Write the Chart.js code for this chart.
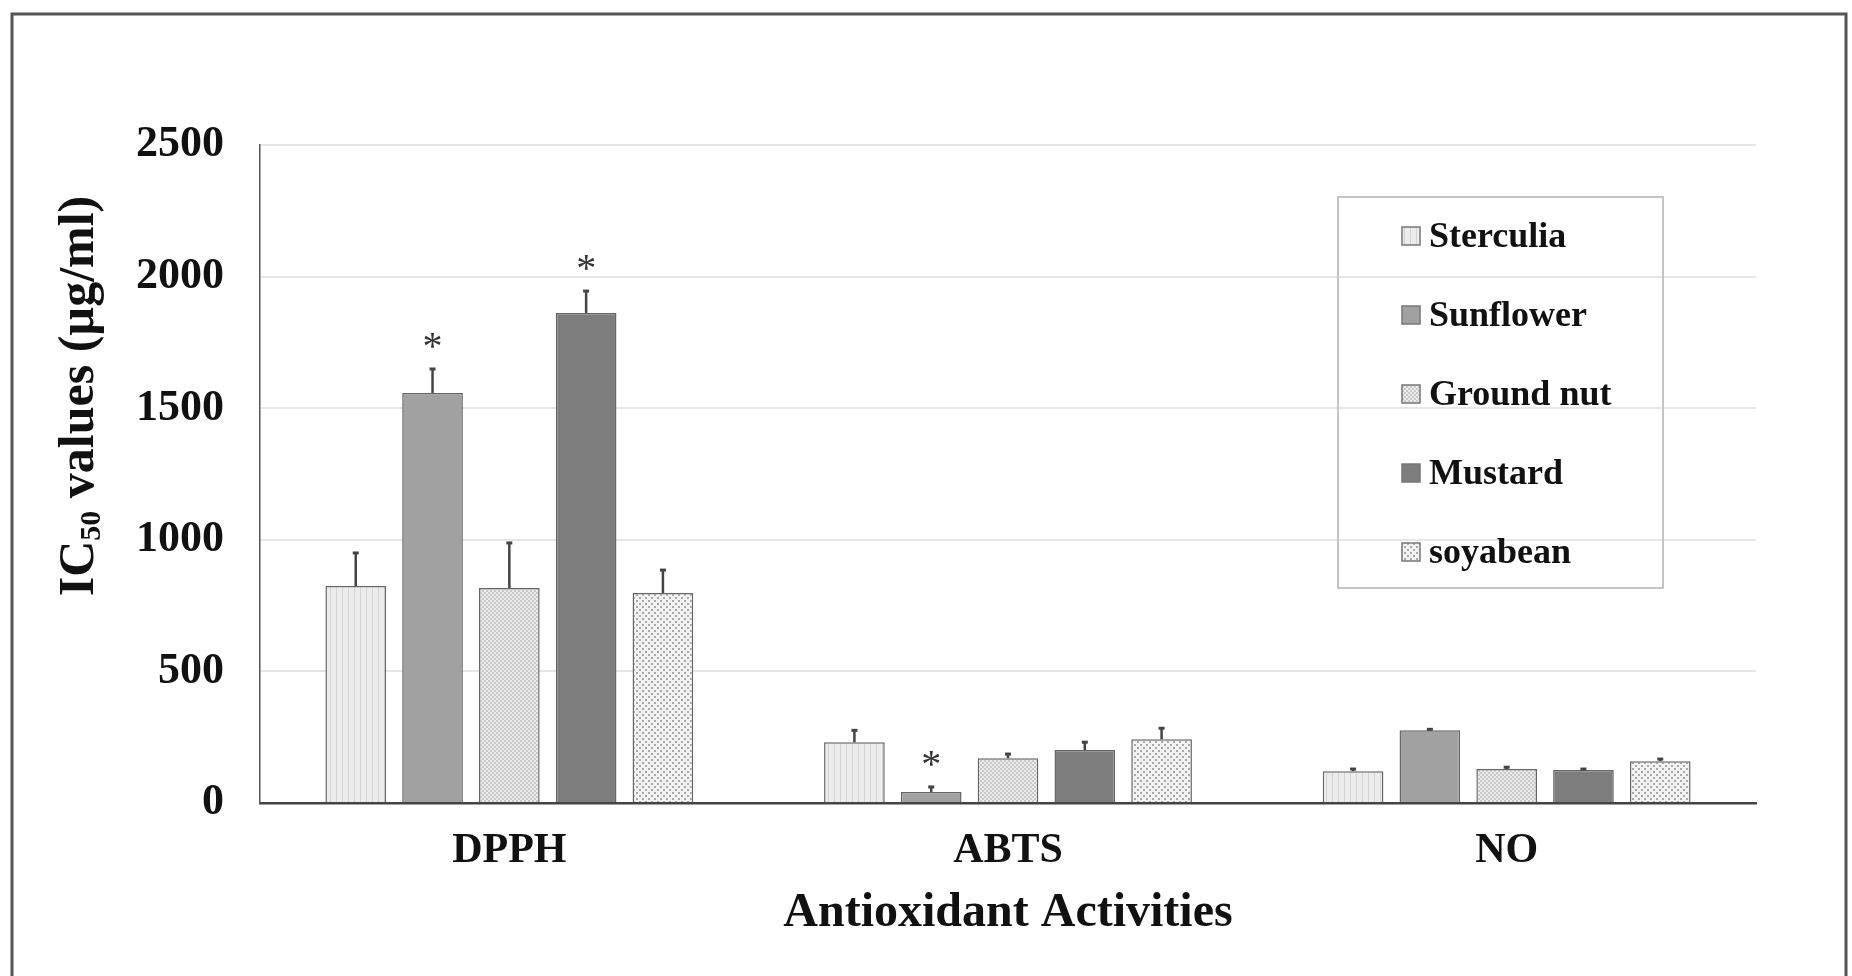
<!DOCTYPE html>
<html lang="en">

<head>
    <meta charset="UTF-8">
    <title>IC50 values - Antioxidant Activities</title>
    <script src="https://cdn.jsdelivr.net/npm/chart.js"></script>
    <style>
        html, body {
            margin: 0;
            padding: 0;
            background: #ffffff;
        }

        #wrap {
            position: relative;
            width: 1852px;
            height: 976px;
        }
    </style>
</head>

<body>

    <div id="wrap">
        <canvas id="myChart"></canvas>
    </div>

    <script>
        // categories and tick labels
        const categories = ['DPPH', 'ABTS', 'NO'];
        const seriesNames = ['Sterculia', 'Sunflower', 'Ground nut', 'Mustard', 'soyabean'];
        const yTicks = [0, 500, 1000, 1500, 2000, 2500];

        // IC50 values (ug/ml)
        const sterculia = [824, 231, 121];
        const sunflower = [1558, 42, 276];
        const groundNut = [817, 170, 129];
        const mustard = [1862, 201, 125];
        const soyabean = [798, 242, 159];

        // error bars (upper only)
        const sterculiaErr = [126, 45, 8];
        const sunflowerErr = [91, 19, 4];
        const groundNutErr = [171, 16, 7];
        const mustardErr = [83, 30, 4];
        const soyabeanErr = [87, 42, 8];

        // significance markers
        const sunflowerStar = [true, true, false];
        const mustardStar = [true, false, false];
        const noStar = [false, false, false];

        var ctx = document.getElementById('myChart').getContext('2d');
        var serif = "'Liberation Serif', 'Times New Roman', serif";

        function makePattern(size, base, fg, dots) {
            var c = document.createElement('canvas');
            c.width = size;
            c.height = size;
            var g = c.getContext('2d');
            g.fillStyle = base;
            g.fillRect(0, 0, size, size);
            g.fillStyle = fg;
            dots.forEach(function (d) {
                g.fillRect(d[0], d[1], d[2], d[3]);
            });
            return ctx.createPattern(c, 'repeat');
        }

        var fills = [
            makePattern(6, '#ececec', '#d4d4d4', [[0, 0, 1, 6]]),
            '#a1a1a1',
            makePattern(4, '#ebebeb', '#c9c9c9', [[0, 0, 2, 2], [2, 2, 2, 2]]),
            '#7d7d7d',
            makePattern(6, '#f2f2f2', '#a9a9a9', [[0, 0, 2, 2], [3, 3, 2, 2]])
        ];

        var values = [sterculia, sunflower, groundNut, mustard, soyabean];
        var errors = [sterculiaErr, sunflowerErr, groundNutErr, mustardErr, soyabeanErr];
        var stars = [noStar, sunflowerStar, noStar, mustardStar, noStar];

        var datasets = seriesNames.map(function (name, i) {
            return {
                label: name,
                data: values[i],
                errors: errors[i],
                stars: stars[i],
                backgroundColor: fills[i],
                borderColor: '#666666',
                borderWidth: 1.5,
                borderSkipped: 'bottom',
                barPercentage: 0.79,
                categoryPercentage: 0.77
            };
        });

        // outer frame of the figure
        const framePlugin = {
            id: 'frame',
            beforeDraw(chart) {
                const c = chart.ctx;
                c.save();
                c.fillStyle = '#ffffff';
                c.fillRect(0, 0, chart.width, chart.height);
                c.strokeStyle = '#555555';
                c.lineWidth = 3;
                c.strokeRect(12, 14, 1834, 980);
                c.restore();
            }
        };

        // error bars and asterisks
        const errorPlugin = {
            id: 'errorBars',
            afterDatasetsDraw(chart) {
                const c = chart.ctx;
                const yScale = chart.scales.y;
                c.save();
                chart.data.datasets.forEach(function (ds, i) {
                    const meta = chart.getDatasetMeta(i);
                    meta.data.forEach(function (bar, j) {
                        const top = yScale.getPixelForValue(ds.data[j] + ds.errors[j]);
                        c.strokeStyle = '#444444';
                        c.lineWidth = 2.5;
                        c.beginPath();
                        c.moveTo(bar.x, bar.y);
                        c.lineTo(bar.x, top);
                        c.stroke();
                        c.lineWidth = 3;
                        c.beginPath();
                        c.moveTo(bar.x - 3, top);
                        c.lineTo(bar.x + 3, top);
                        c.stroke();
                        if (ds.stars[j]) {
                            c.fillStyle = '#333333';
                            c.font = '40px ' + serif;
                            c.textAlign = 'center';
                            c.textBaseline = 'alphabetic';
                            c.fillText('*', bar.x, top - 28 + 18);
                        }
                    });
                });
                c.restore();
            }
        };

        // y axis title with subscript
        const yTitlePlugin = {
            id: 'yTitle',
            afterDraw(chart) {
                const c = chart.ctx;
                const big = 'bold 50px ' + serif;
                const small = 'bold 30px ' + serif;
                const p1 = 'IC', p2 = '50', p3 = ' values (\u00b5g/ml)';
                c.save();
                c.font = big;
                const w1 = c.measureText(p1).width;
                const w3 = c.measureText(p3).width;
                c.font = small;
                const w2 = c.measureText(p2).width;
                const total = w1 + w2 + w3;
                c.translate(80, 396);
                c.rotate(-Math.PI / 2);
                c.fillStyle = '#111111';
                c.textAlign = 'left';
                c.textBaseline = 'middle';
                let x = -total / 2;
                c.font = big;
                c.fillText(p1, x, 0);
                x += w1;
                c.font = small;
                c.fillText(p2, x, 12);
                x += w2;
                c.font = big;
                c.fillText(p3, x, 0);
                c.restore();
            }
        };

        // legend box inside the plot
        const legendPlugin = {
            id: 'boxLegend',
            afterDraw(chart) {
                const c = chart.ctx;
                c.save();
                c.strokeStyle = '#c4c4c4';
                c.lineWidth = 2;
                c.strokeRect(1338, 197, 325, 391);
                c.font = 'bold 36px ' + serif;
                c.textAlign = 'left';
                c.textBaseline = 'middle';
                chart.data.datasets.forEach(function (ds, i) {
                    const y = 236 + i * 79;
                    c.fillStyle = ds.backgroundColor;
                    c.fillRect(1402, y - 9, 18, 18);
                    c.strokeStyle = '#777777';
                    c.lineWidth = 1.5;
                    c.strokeRect(1402, y - 9, 18, 18);
                    c.fillStyle = '#111111';
                    c.fillText(ds.label, 1429, y + 2);
                });
                c.restore();
            }
        };

        var myChart = new Chart(ctx, {
            type: 'bar',
            data: {
                labels: categories,
                datasets: datasets
            },
            options: {
                responsive: true,
                maintainAspectRatio: false,
                animation: false,
                layout: {
                    padding: { top: 145, right: 96, left: 0, bottom: 0 }
                },
                plugins: {
                    legend: { display: false },
                    tooltip: { enabled: false }
                },
                scales: {
                    x: {
                        grid: { display: false, drawTicks: false },
                        border: { color: '#444444', width: 2.5 },
                        ticks: {
                            padding: 23,
                            color: '#111111',
                            font: { family: serif, size: 42, weight: 'bold' }
                        },
                        title: {
                            display: true,
                            text: 'Antioxidant Activities',
                            color: '#111111',
                            padding: { top: 0, bottom: 34 },
                            font: { family: serif, size: 48, weight: 'bold' }
                        },
                        afterFit: function (scale) {
                            scale.height = 173;
                        }
                    },
                    y: {
                        min: 0,
                        max: 2500,
                        afterBuildTicks: function (scale) {
                            scale.ticks = yTicks.map(function (v) { return { value: v }; });
                        },
                        grid: {
                            drawTicks: false,
                            lineWidth: 2,
                            color: function (c) {
                                return c.tick && c.tick.value === 0 ? 'rgba(0,0,0,0)' : '#e6e6e6';
                            }
                        },
                        border: { color: '#555555', width: 1.5 },
                        ticks: {
                            padding: 36,
                            color: '#111111',
                            font: { family: serif, size: 44, weight: 'bold' },
                            callback: function (v) { return String(v); }
                        },
                        afterFit: function (scale) {
                            scale.width = 260;
                        }
                    }
                }
            },
            plugins: [framePlugin, errorPlugin, yTitlePlugin, legendPlugin]
        });
    </script>

</body>

</html>
